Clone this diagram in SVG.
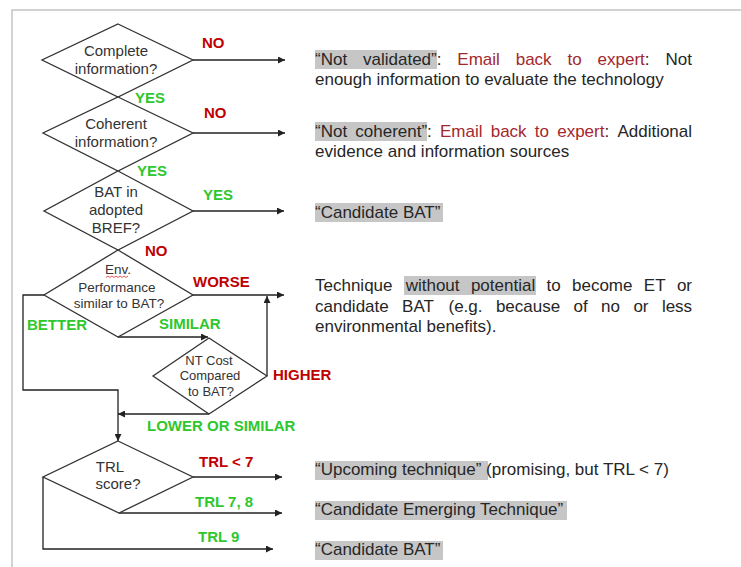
<svg xmlns="http://www.w3.org/2000/svg" width="741" height="567" viewBox="0 0 741 567">
<style>
.frame{stroke:#c4c4c4;stroke-width:1.5;fill:none}
.dia{fill:#fff;stroke:#333;stroke-width:1.3}
.conn{fill:none;stroke:#222;stroke-width:1.3}
.dt{font-family:"Liberation Sans",Arial,sans-serif;font-size:15px;fill:#333;text-anchor:middle}
.dt.s{font-size:13.5px}
.dt.xs{font-size:13px}
.lbl{font-family:"Liberation Sans",Arial,sans-serif;font-size:15px;font-weight:bold}
.red{fill:#c00000}
.grn{fill:#2ec72e}
.bt{font-family:"Liberation Sans",Arial,sans-serif;font-size:17px;fill:#262626}
.em{fill:#a3282e}
.hl{fill:#c6c6c6}
</style>
<defs>
<marker id="arr" viewBox="0 0 10 10" refX="10" refY="5" markerWidth="7" markerHeight="7" markerUnits="userSpaceOnUse" orient="auto">
<path d="M0,0 L10,5 L0,10 z" fill="#222"/>
</marker>
</defs>
<rect width="741" height="567" fill="#fff"/>
<path class="frame" d="M12,567 V10 H741"/>

<g id="connectors">
<path class="conn" d="M193,60 H285" marker-end="url(#arr)"/>
<path class="conn" d="M193,133 H285" marker-end="url(#arr)"/>
<path class="conn" d="M193,211 H284" marker-end="url(#arr)"/>
<path class="conn" d="M193,295 H284" marker-end="url(#arr)"/>
<path class="conn" d="M44,295 H23 V390 H118 V441" marker-end="url(#arr)"/>
<path class="conn" d="M118,337 H208" marker-end="url(#arr)"/>
<path class="conn" d="M267,376 V296" marker-end="url(#arr)"/>
<path class="conn" d="M209,414 H118" marker-end="url(#arr)"/>
<path class="conn" d="M193,477 H282" marker-end="url(#arr)"/>
<path class="conn" d="M119,513 H282" marker-end="url(#arr)"/>
<path class="conn" d="M43,477 V549 H273" marker-end="url(#arr)"/>
</g>

<g id="d-complete">
<polygon class="dia" points="118,24 193,60 118,97 42,60"/>
<text class="dt" x="116" y="56">Complete</text>
<text class="dt" x="116" y="74">information?</text>
</g>
<g id="d-coherent">
<polygon class="dia" points="118,97 193,133 118,171 43,133"/>
<text class="dt" x="116" y="129">Coherent</text>
<text class="dt" x="116" y="147">information?</text>
</g>
<g id="d-bref">
<polygon class="dia" points="118,171 193,211 118,250 44,211"/>
<text class="dt" x="116" y="197">BAT in</text>
<text class="dt" x="116" y="215">adopted</text>
<text class="dt" x="116" y="233">BREF?</text>
</g>
<g id="d-env">
<polygon class="dia" points="118,250 193,295 118,337 44,295"/>
<text class="dt s" x="118" y="274">Env.</text>
<path d="M106,277.5 l2,-1.5 l2,1.5 l2,-1.5 l2,1.5 l2,-1.5 l2,1.5 l2,-1.5 l2,1.5 l2,-1.5 l2,1.5 l2,-1.5" fill="none" stroke="#e03030" stroke-width="0.8"/>
<text class="dt s" x="117" y="292">Performance</text>
<text class="dt s" x="119" y="308">similar to BAT?</text>
</g>
<g id="d-cost">
<polygon class="dia" points="209,338 267,376 209,414 153,376"/>
<text class="dt xs" x="209" y="365">NT Cost</text>
<text class="dt xs" x="210" y="380">Compared</text>
<text class="dt xs" x="211" y="396">to BAT?</text>
</g>
<g id="d-trl">
<polygon class="dia" points="118,441 193,477 119,513 43,477"/>
<text class="dt" x="110" y="472">TRL</text>
<text class="dt" x="118" y="489">score?</text>
</g>

<g id="labels">
<text class="lbl red" x="202" y="48">NO</text>
<text class="lbl grn" x="135" y="103">YES</text>
<text class="lbl red" x="204" y="118">NO</text>
<text class="lbl grn" x="137" y="176">YES</text>
<text class="lbl grn" x="203" y="200">YES</text>
<text class="lbl red" x="145" y="256">NO</text>
<text class="lbl red" x="193" y="287">WORSE</text>
<text class="lbl grn" x="27" y="330">BETTER</text>
<text class="lbl grn" x="159" y="329">SIMILAR</text>
<text class="lbl red" x="273" y="380">HIGHER</text>
<text class="lbl grn" x="147" y="431">LOWER OR SIMILAR</text>
<text class="lbl red" x="199" y="467">TRL &lt; 7</text>
<text class="lbl grn" x="195" y="507">TRL 7, 8</text>
<text class="lbl grn" x="198" y="542">TRL 9</text>
</g>

<g id="out-not-validated">
<rect class="hl" x="315" y="50" width="122" height="19"/>
<text class="bt" y="65"><tspan x="315">“Not</tspan><tspan x="363">validated”:</tspan><tspan class="em" x="457.3">Email</tspan><tspan class="em" x="515.7">back</tspan><tspan class="em" x="567.5">to</tspan><tspan class="em" x="597.6">expert</tspan><tspan>:</tspan><tspan x="665.5">Not</tspan></text>
<text class="bt" x="315" y="85">enough information to evaluate the technology</text>
</g>
<g id="out-not-coherent">
<rect class="hl" x="315" y="122" width="112" height="19"/>
<text class="bt" y="137"><tspan x="315">“Not</tspan><tspan x="355.3">coherent”:</tspan><tspan class="em" x="440">Email</tspan><tspan class="em" x="490.7">back</tspan><tspan class="em" x="534.8">to</tspan><tspan class="em" x="557.2">expert</tspan><tspan>:</tspan><tspan x="617.4">Additional</tspan></text>
<text class="bt" x="315" y="157">evidence and information sources</text>
</g>
<g id="out-candidate-bat-1">
<rect class="hl" x="315" y="203" width="128" height="19"/>
<text class="bt" x="315" y="218">“Candidate BAT”</text>
</g>
<g id="out-without-potential">
<rect class="hl" x="404" y="276" width="132" height="19"/>
<text class="bt" y="291"><tspan x="315">Technique</tspan><tspan x="405.7">without</tspan><tspan x="470.9">potential</tspan><tspan x="546.5">to</tspan><tspan x="572">become</tspan><tspan x="643.8">ET</tspan><tspan x="676.9">or</tspan></text>
<text class="bt" y="312"><tspan x="315">candidate</tspan><tspan x="402.1">BAT</tspan><tspan x="448.5">(e.g.</tspan><tspan x="495.9">because</tspan><tspan x="573.5">of</tspan><tspan x="601.1">no</tspan><tspan x="633.4">or</tspan><tspan x="661.9">less</tspan></text>
<text class="bt" x="315" y="332">environmental benefits).</text>
</g>
<g id="out-upcoming">
<rect class="hl" x="315" y="461" width="173" height="19"/>
<text class="bt" x="315" y="475">“Upcoming technique” (promising, but TRL &lt; 7)</text>
</g>
<g id="out-emerging">
<rect class="hl" x="315" y="501" width="252" height="19"/>
<text class="bt" x="315" y="515">“Candidate Emerging Technique”</text>
</g>
<g id="out-candidate-bat-2">
<rect class="hl" x="315" y="541" width="128" height="19"/>
<text class="bt" x="315" y="555">“Candidate BAT”</text>
</g>
</svg>
